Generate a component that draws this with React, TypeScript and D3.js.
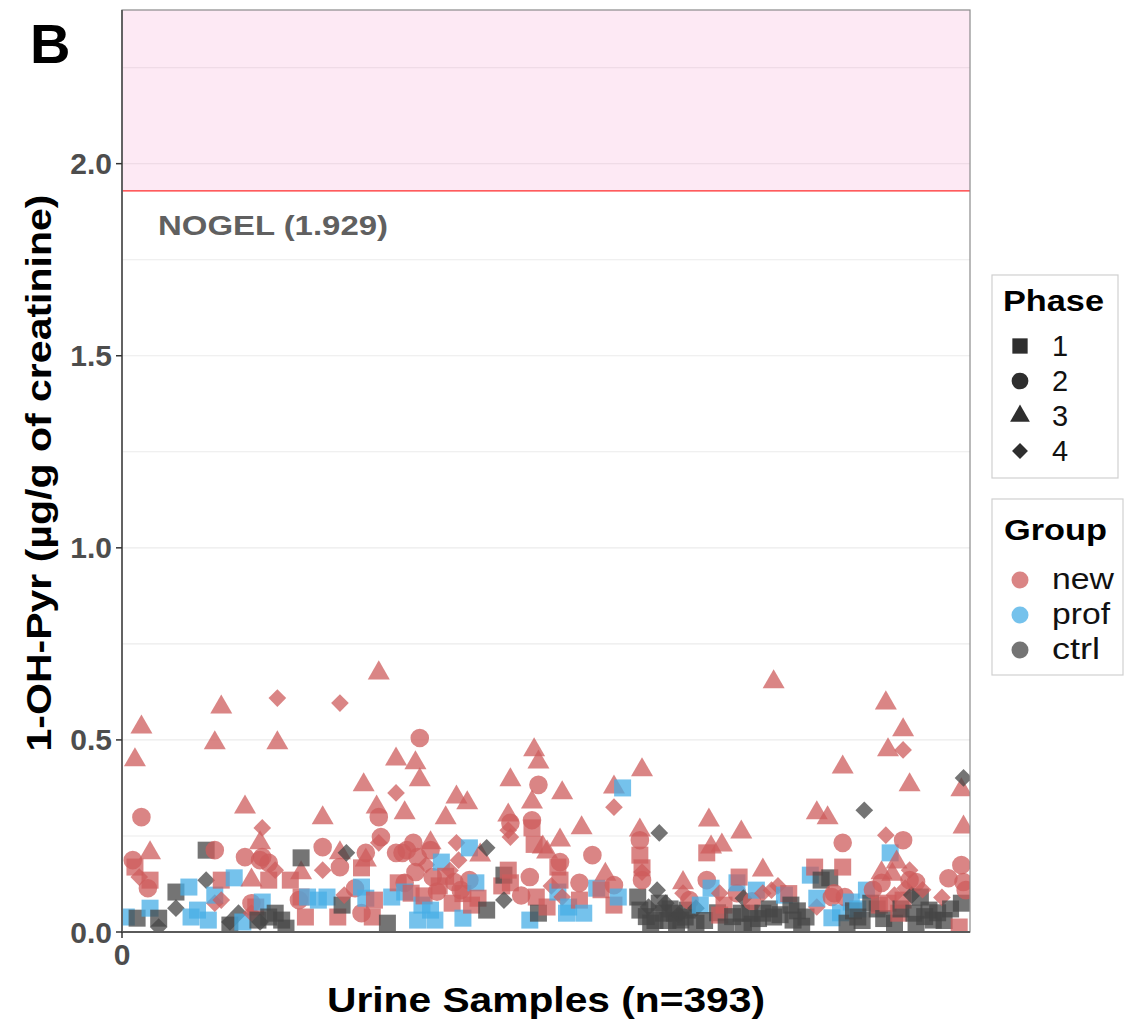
import React from "react";
import * as d3 from "d3";

// ---- Data: [sample index, 1-OH-Pyr (µg/g creatinine)] per group and phase ----
const newPhase1: [number, number][] = [
  [6, 0.169], [13, 0.135], [46, 0.135], [62, 0.065], [68, 0.135], [78, 0.135], [83, 0.091],
  [85, 0.039], [100, 0.039], [111, 0.167], [116, 0.039], [117, 0.083], [128, 0.128], [134, 0.101],
  [140, 0.094], [147, 0.12], [150, 0.145], [153, 0.075], [158, 0.1], [162, 0.07], [165, 0.088],
  [176, 0.12], [179, 0.161], [180, 0.128], [190, 0.271], [191, 0.228], [192, 0.091], [197, 0.065],
  [202, 0.169], [203, 0.135], [212, 0.083], [222, 0.11], [228, 0.07], [240, 0.2], [241, 0.167],
  [271, 0.206], [277, 0.044], [279, 0.07], [286, 0.143], [309, 0.1], [321, 0.169], [334, 0.169],
  [351, 0.07], [355, 0.075], [360, 0.049], [362, 0.083], [388, 0.013],
];
const newPhase2: [number, number][] = [
  [5, 0.187], [9, 0.299], [12, 0.114], [43, 0.213], [57, 0.195], [60, 0.075], [64, 0.187],
  [65, 0.195], [68, 0.18], [82, 0.083], [93, 0.221], [101, 0.169], [108, 0.114], [111, 0.049],
  [113, 0.206], [119, 0.299], [120, 0.247], [127, 0.206], [130, 0.206], [131, 0.128],
  [132, 0.213], [135, 0.232], [136, 0.156], [137, 0.195], [138, 0.505], [143, 0.213],
  [144, 0.143], [146, 0.105], [154, 0.13], [157, 0.109], [161, 0.135], [180, 0.284],
  [185, 0.095], [189, 0.143], [190, 0.291], [193, 0.383], [203, 0.182], [212, 0.128],
  [218, 0.2], [228, 0.122], [240, 0.239], [241, 0.135], [263, 0.083], [271, 0.135],
  [285, 0.101], [292, 0.08], [329, 0.091], [330, 0.101], [334, 0.232], [335, 0.091],
  [348, 0.11], [352, 0.128], [362, 0.239], [365, 0.135], [368, 0.13], [383, 0.14],
  [389, 0.174], [390, 0.13], [391, 0.109],
];
const newPhase3: [number, number][] = [
  [6, 0.448], [9, 0.533], [13, 0.206], [43, 0.492], [46, 0.585], [57, 0.325], [60, 0.135],
  [64, 0.232], [72, 0.492], [83, 0.154], [93, 0.297], [101, 0.206], [112, 0.383], [113, 0.187],
  [118, 0.325], [119, 0.674], [127, 0.45], [131, 0.31], [136, 0.44], [138, 0.396], [143, 0.232],
  [150, 0.297], [155, 0.351], [160, 0.336], [166, 0.2], [179, 0.304], [180, 0.396],
  [190, 0.338], [191, 0.474], [193, 0.442], [195, 0.221], [197, 0.208], [203, 0.239],
  [204, 0.362], [213, 0.271], [224, 0.15], [228, 0.377], [240, 0.265], [241, 0.422],
  [260, 0.128], [272, 0.291], [273, 0.221], [278, 0.226], [287, 0.26], [297, 0.161],
  [302, 0.651], [322, 0.31], [327, 0.297], [334, 0.429], [352, 0.154], [354, 0.596],
  [355, 0.474], [357, 0.15], [359, 0.182], [362, 0.526], [365, 0.383], [389, 0.37], [390, 0.273],
];
const newPhase4: [number, number][] = [
  [8, 0.143], [43, 0.075], [46, 0.083], [60, 0.049], [65, 0.271], [71, 0.161], [72, 0.609],
  [93, 0.161], [101, 0.596], [103, 0.096], [119, 0.232], [127, 0.362], [141, 0.175],
  [152, 0.16], [155, 0.232], [156, 0.187], [179, 0.265], [180, 0.247], [199, 0.12],
  [204, 0.091], [228, 0.325], [241, 0.156], [260, 0.101], [277, 0.101], [297, 0.101],
  [301, 0.109], [304, 0.12], [322, 0.065], [354, 0.252], [358, 0.096], [362, 0.474],
  [363, 0.114], [365, 0.161], [371, 0.11], [380, 0.09],
];
const profPhase1: [number, number][] = [
  [2, 0.039], [13, 0.062], [31, 0.117], [32, 0.039], [35, 0.057], [40, 0.031], [43, 0.096],
  [52, 0.141], [56, 0.026], [65, 0.078], [86, 0.091], [91, 0.083], [95, 0.091], [111, 0.117],
  [113, 0.088], [125, 0.091], [131, 0.104], [137, 0.031], [139, 0.07], [143, 0.057],
  [145, 0.031], [148, 0.182], [158, 0.036], [161, 0.219], [164, 0.128], [189, 0.031],
  [202, 0.104], [206, 0.049], [207, 0.065], [214, 0.049], [220, 0.114], [230, 0.091],
  [232, 0.375], [268, 0.07], [273, 0.114], [285, 0.128], [294, 0.109], [307, 0.096],
  [319, 0.148], [322, 0.088], [329, 0.037], [333, 0.05], [338, 0.078], [341, 0.06],
  [345, 0.109], [356, 0.206],
];
const ctrlPhase1: [number, number][] = [
  [7, 0.036], [17, 0.036], [25, 0.104], [39, 0.213], [50, 0.018], [63, 0.031], [68, 0.039],
  [71, 0.049], [74, 0.031], [76, 0.01], [83, 0.193], [102, 0.07], [123, 0.023], [169, 0.057],
  [177, 0.148], [193, 0.049], [239, 0.091], [240, 0.057], [243, 0.04], [245, 0.023],
  [247, 0.03], [249, 0.075], [251, 0.049], [253, 0.03], [254, 0.06], [256, 0.049], [257, 0.02],
  [259, 0.031], [261, 0.039], [262, 0.057], [266, 0.023], [270, 0.03], [276, 0.05], [280, 0.013],
  [283, 0.04], [287, 0.049], [288, 0.013], [291, 0.049], [292, 0.02], [295, 0.035], [297, 0.049],
  [300, 0.06], [302, 0.039], [305, 0.045], [310, 0.07], [311, 0.031], [313, 0.055], [315, 0.015],
  [317, 0.039], [324, 0.135], [328, 0.141], [336, 0.023], [339, 0.055], [341, 0.039], [343, 0.03],
  [347, 0.075], [350, 0.06], [353, 0.035], [358, 0.023], [361, 0.06], [367, 0.049], [368, 0.02],
  [370, 0.091], [372, 0.04], [374, 0.057], [376, 0.031], [378, 0.05], [381, 0.03], [384, 0.06],
  [389, 0.075],
];
const ctrlPhase4: [number, number][] = [
  [17, 0.013], [25, 0.062], [39, 0.135], [50, 0.026], [54, 0.049], [64, 0.026], [104, 0.206],
  [169, 0.219], [177, 0.083], [244, 0.065], [248, 0.109], [249, 0.258], [252, 0.075],
  [258, 0.045], [266, 0.062], [288, 0.088], [344, 0.317], [366, 0.096], [390, 0.401],
];

const groups = ["new", "prof", "ctrl"];
const groupColors = ["#CD5C5C", "#47ADE6", "#454545"];
const phases = ["1", "2", "3", "4"];
const yTicks = [0, 0.5, 1.0, 1.5, 2.0];
const yGrid = [0.25, 0.5, 0.75, 1.0, 1.25, 1.5, 1.75, 2.0, 2.25];
const nogel = 1.929;
const nSamples = 393;

const series: { group: string; phase: string; values: [number, number][] }[] = [
  { group: "new", phase: "1", values: newPhase1 },
  { group: "new", phase: "2", values: newPhase2 },
  { group: "new", phase: "3", values: newPhase3 },
  { group: "new", phase: "4", values: newPhase4 },
  { group: "prof", phase: "1", values: profPhase1 },
  { group: "ctrl", phase: "1", values: ctrlPhase1 },
  { group: "ctrl", phase: "4", values: ctrlPhase4 },
];

const W = 1125;
const H = 1022;
const panel = { left: 122, right: 970, top: 10, bottom: 932 };
const FONT = "'Liberation Sans', Arial, Helvetica, sans-serif";

const x = d3.scaleLinear().domain([0, nSamples]).range([panel.left, panel.right]);
const y = d3.scaleLinear().domain([0, 2.4]).range([panel.bottom, panel.top]);
const color = d3.scaleOrdinal<string, string>().domain(groups).range(groupColors);

function shapePath(phase: string, scale = 1): { d: string; rotate: number } {
  switch (phase) {
    case "1":
      return { d: d3.symbol(d3.symbolSquare, 17 * 17 * scale * scale)() as string, rotate: 0 };
    case "2":
      return { d: d3.symbol(d3.symbolCircle, Math.PI * 9.3 * 9.3 * scale * scale)() as string, rotate: 0 };
    case "3":
      return { d: d3.symbol(d3.symbolTriangle, 0.433 * 22 * 22 * scale * scale)() as string, rotate: 0 };
    default:
      return { d: d3.symbol(d3.symbolSquare, 12.5 * 12.5 * scale * scale)() as string, rotate: 45 };
  }
}

export default function App() {
  const points = series
    .flatMap((s) => s.values.map(([i, v]) => ({ i, v, group: s.group, phase: s.phase })))
    .sort((a, b) => a.i - b.i);

  return (
    <svg
      width={W}
      height={H}
      style={{ position: "absolute", left: 0, top: 0, display: "block" }}
      fontFamily={FONT}
    >
      <defs>
        <clipPath id="panel-clip">
          <rect x={panel.left} y={panel.top} width={panel.right - panel.left} height={panel.bottom - panel.top} />
        </clipPath>
      </defs>
      <rect width={W} height={H} fill="#FFFFFF" />

      {/* panel grid */}
      {yGrid.map((t) => (
        <line key={t} x1={panel.left} x2={panel.right} y1={y(t)} y2={y(t)} stroke="#EBEBEB" strokeWidth={1.1} />
      ))}

      {/* area above NOGEL */}
      <rect
        x={panel.left}
        y={panel.top}
        width={panel.right - panel.left}
        height={y(nogel) - panel.top}
        fill="#F7B6DA"
        fillOpacity={0.3}
      />
      <line x1={panel.left} x2={panel.right} y1={y(nogel)} y2={y(nogel)} stroke="#FF2B2B" strokeWidth={1.3} />
      <text x={158} y={235} fontSize={28} fontWeight="bold" fill="#606060" textLength={230} lengthAdjust="spacingAndGlyphs">
        NOGEL ({nogel})
      </text>

      {/* points */}
      <g clipPath="url(#panel-clip)">
        {points.map((p, k) => {
          const s = shapePath(p.phase);
          return (
            <path
              key={k}
              d={s.d}
              transform={`translate(${x(p.i)},${y(p.v)}) rotate(${s.rotate})`}
              fill={color(p.group)}
              fillOpacity={0.75}
            />
          );
        })}
      </g>

      {/* panel border and axes */}
      <rect
        x={panel.left}
        y={panel.top}
        width={panel.right - panel.left}
        height={panel.bottom - panel.top}
        fill="none"
        stroke="#8A8A8A"
        strokeWidth={1.2}
      />
      <line x1={panel.left} x2={panel.left} y1={panel.top} y2={panel.bottom + 1} stroke="#5A5A5A" strokeWidth={1.8} />
      <line x1={panel.left - 1} x2={panel.right} y1={panel.bottom} y2={panel.bottom} stroke="#5A5A5A" strokeWidth={1.8} />

      {yTicks.map((t) => (
        <g key={t}>
          <line x1={panel.left - 6} x2={panel.left} y1={y(t)} y2={y(t)} stroke="#333" strokeWidth={1.5} />
          <text x={panel.left - 10} y={y(t) + 10.5} textAnchor="end" fontSize={30} fontWeight="bold" fill="#4D4D4D">
            {t.toFixed(1)}
          </text>
        </g>
      ))}
      <line x1={x(0)} x2={x(0)} y1={panel.bottom} y2={panel.bottom + 6} stroke="#333" strokeWidth={1.5} />
      <text x={x(0)} y={965} textAnchor="middle" fontSize={30} fontWeight="bold" fill="#4D4D4D">
        0
      </text>

      {/* axis titles */}
      <text
        x={(panel.left + panel.right) / 2}
        y={1012}
        textAnchor="middle"
        fontSize={35}
        fontWeight="bold"
        fill="#000"
        textLength={438}
        lengthAdjust="spacingAndGlyphs"
      >
        Urine Samples (n={nSamples})
      </text>
      <text
        transform={`translate(51,${(panel.top + panel.bottom) / 2 + 2}) rotate(-90)`}
        textAnchor="middle"
        fontSize={35}
        fontWeight="bold"
        fill="#000"
        textLength={557}
        lengthAdjust="spacingAndGlyphs"
      >
        1-OH-Pyr (µg/g of creatinine)
      </text>

      {/* panel tag */}
      <text x={30} y={63} fontSize={56} fontWeight="bold" fill="#000">
        B
      </text>

      {/* legend: Phase */}
      <rect x={992} y={275} width={126} height={203} fill="#FFF" stroke="#D0D0D0" strokeWidth={1.2} />
      <text x={1003} y={311} fontSize={29} fontWeight="bold" fill="#000" textLength={101} lengthAdjust="spacingAndGlyphs">
        Phase
      </text>
      {phases.map((ph, k) => {
        const cy = 346 + k * 35;
        const s = shapePath(ph, 0.9);
        return (
          <g key={ph}>
            <path d={s.d} transform={`translate(1020,${cy}) rotate(${s.rotate})`} fill="#2E2E2E" />
            <text x={1052} y={cy + 10} fontSize={29} fill="#111">
              {ph}
            </text>
          </g>
        );
      })}

      {/* legend: Group */}
      <rect x={992} y={499} width={131} height={176} fill="#FFF" stroke="#D0D0D0" strokeWidth={1.2} />
      <text x={1004} y={540} fontSize={29} fontWeight="bold" fill="#000" textLength={103} lengthAdjust="spacingAndGlyphs">
        Group
      </text>
      {groups.map((g, k) => {
        const cy = 580 + k * 35;
        return (
          <g key={g}>
            <circle cx={1020} cy={cy} r={8.5} fill={color(g)} fillOpacity={0.75} />
            <text x={1052} y={cy + 9} fontSize={29} fill="#111" textLength={g === "new" ? 62 : g === "prof" ? 58 : 48} lengthAdjust="spacingAndGlyphs">
              {g}
            </text>
          </g>
        );
      })}
    </svg>
  );
}
